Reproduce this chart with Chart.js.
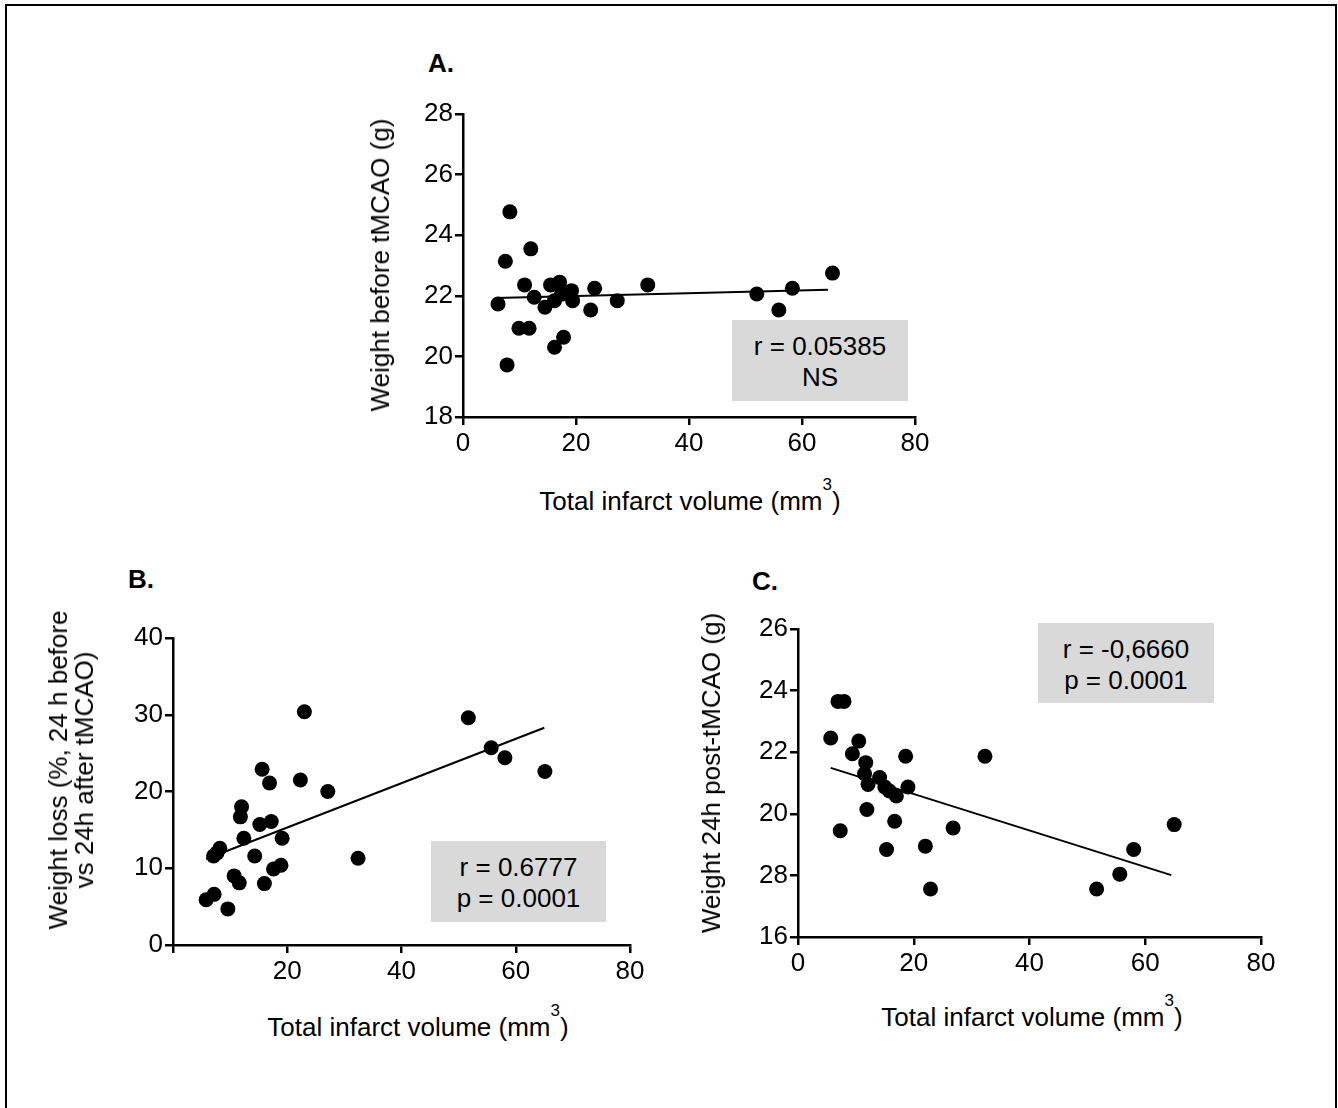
<!DOCTYPE html>
<html>
<head>
<meta charset="utf-8">
<title>Infarct volume vs weight</title>
<script src="https://cdn.jsdelivr.net/npm/chart.js@4.4.0/dist/chart.umd.min.js"></script>
<style>
  body { margin: 0; background: #fff; }
  #page { position: relative; width: 1338px; height: 1108px; overflow: hidden;
          font-family: "Liberation Sans", Arial, sans-serif; color: #000; background: #fff; }
  #frame { position: absolute; left: 5px; top: 4px; width: 1328px; height: 1140px; border: 2px solid #000; }
  canvas { position: absolute; }
  .letter { position: absolute; font-weight: bold; font-size: 26px; line-height: 26px; }
  .xtitle { position: absolute; font-size: 26px; line-height: 26px; white-space: nowrap;
            transform: translate(-50%, -50%); }
  .xtitle span { font-size: 17px; position: relative; top: -20px; }
  .ytitle { position: absolute; font-size: 26px; line-height: 26px; white-space: nowrap; text-align: center;
            transform: translate(-50%, -50%) rotate(-90deg); }
  .stat { position: absolute; background: #d9d9d9; font-size: 26px; line-height: 31px; text-align: center;
          display: flex; flex-direction: column; justify-content: center; padding-top: 3px; box-sizing: border-box; }
</style>
</head>
<body>
<div id="page">
  <div id="frame"></div>

  <canvas id="chartA" width="620" height="372" style="left:330px; top:90px; width:620px; height:372px;"></canvas>
  <canvas id="chartB" width="625" height="380" style="left:40px; top:610px; width:625px; height:380px;"></canvas>
  <canvas id="chartC" width="606" height="382" style="left:690px; top:600px; width:606px; height:382px;"></canvas>

  <div class="letter" style="left:428px; top:50px;">A.</div>
  <div class="letter" style="left:128px; top:566px;">B.</div>
  <div class="letter" style="left:752px; top:568px;">C.</div>

  <div class="ytitle" style="left:380px; top:265px;">Weight before tMCAO (g)</div>
  <div class="ytitle" style="left:71px; top:770px;">Weight loss (%, 24 h before<br>vs 24h after tMCAO)</div>
  <div class="ytitle" style="left:711px; top:773px;">Weight 24h post-tMCAO (g)</div>

  <div class="xtitle" style="left:690px; top:503px;">Total infarct volume (mm<span>3</span>)</div>
  <div class="xtitle" style="left:418px; top:1029px;">Total infarct volume (mm<span>3</span>)</div>
  <div class="xtitle" style="left:1032px; top:1019px;">Total infarct volume (mm<span>3</span>)</div>

  <div class="stat" style="left:732px; top:320px; width:176px; height:81px;"><div>r = 0.05385</div><div>NS</div></div>
  <div class="stat" style="left:431px; top:841px; width:175px; height:81px;"><div>r = 0.6777</div><div>p = 0.0001</div></div>
  <div class="stat" style="left:1038px; top:623px; width:176px; height:80px;"><div>r = -0,6660</div><div>p = 0.0001</div></div>
</div>

<script>
const FONT = '"Liberation Sans", Arial, sans-serif';

// x axis: total infarct volume (mm3)
const xTicks = [0, 20, 40, 60, 80];

// A. weight before tMCAO (g)
const volA = [6.2, 7.5, 8.3, 7.8, 9.9, 11.7, 10.9, 12.0, 12.6, 14.5, 15.5, 16.2, 17.1, 17.4,
              16.2, 17.8, 19.2, 19.4, 22.6, 23.3, 27.3, 32.7, 52.0, 55.9, 58.3, 65.4];
const weightBefore = [21.73, 23.14, 24.77, 19.72, 20.93, 20.93, 22.36, 23.55, 21.95, 21.62, 22.36, 21.84, 22.45, 22.05,
                      20.3, 20.63, 22.17, 21.84, 21.53, 22.25, 21.84, 22.36, 22.06, 21.53, 22.25, 22.75];
const fitAx = [5.8, 64.6];
const fitAy = [21.93, 22.2];
const yTicksA = [18, 20, 22, 24, 26, 28];

// B. weight loss (%)
const volB = [5.8, 7.2, 9.6, 7.1, 8.2, 7.7, 10.7, 11.6, 11.8, 12.0, 12.4, 14.3, 15.6, 15.2,
              16.0, 16.9, 17.2, 17.6, 18.9, 19.1, 22.3, 23.0, 27.1, 32.4, 51.7, 55.7, 58.1, 65.1];
const weightLoss = [5.9, 6.6, 4.7, 11.6, 12.6, 12.0, 9.0, 8.1, 16.7, 18.0, 13.9, 11.6, 22.9, 15.7,
                    8.0, 21.1, 16.1, 9.9, 10.4, 13.9, 21.5, 30.4, 20.0, 11.3, 29.6, 25.7, 24.4, 22.6];
const fitBx = [5.8, 65.0];
const fitBy = [11.2, 28.3];
const yTicksB = [0, 10, 20, 30, 40];

// C. weight 24h post-tMCAO (g)
const volC = [5.65, 6.9, 7.95, 7.3, 9.4, 10.5, 11.7, 11.5, 12.1, 11.9, 14.1, 15.0, 15.8,
              17.0, 16.7, 15.3, 18.6, 19.0, 22.0, 22.9, 26.8, 32.3, 51.6, 55.6, 58.0, 65.0];
const weight24h = [22.46, 23.65, 23.65, 19.45, 21.95, 22.36, 21.66, 21.3, 20.95, 20.14, 21.18, 20.87, 20.74,
                   20.58, 19.76, 18.84, 21.87, 20.87, 18.95, 17.56, 19.54, 21.87, 17.56, 18.04, 18.84, 19.65];
const fitCx = [5.65, 64.5];
const fitCy = [21.49, 18.01];
const yTicksC = [16, 18, 20, 22, 24, 26];
const yTickLabelsC = ['16', '28', '20', '22', '24', '26'];  // printed this way in the figure

Chart.defaults.font.family = FONT;
Chart.defaults.color = '#000';

function toPoints(xs, ys) {
    return xs.map((x, i) => ({ x: x, y: ys[i] }));
}

function axisOpts(pos, ticks, labelFn, size) {
    return {
        type: 'linear',
        position: pos,
        min: ticks[0],
        max: ticks[ticks.length - 1],
        afterBuildTicks: scale => { scale.ticks = ticks.map(v => ({ value: v })); },
        ticks: {
            color: '#000',
            font: { family: FONT, size: 26 },
            padding: pos === 'left' ? 2 : 3,
            callback: labelFn
        },
        grid: {
            display: true,
            drawOnChartArea: false,
            drawTicks: true,
            tickLength: 8,
            color: '#000',
            lineWidth: 2.5
        },
        border: { display: true, color: '#000', width: 2.5 },
        afterFit: scale => {
            if (pos === 'left') scale.width = size;
            else scale.height = size;
        }
    };
}

function buildPanel(canvasId, cfg) {
    const ctx = document.getElementById(canvasId).getContext('2d');
    return new Chart(ctx, {
        type: 'scatter',
        data: {
            datasets: [
                {
                    data: toPoints(cfg.xs, cfg.ys),
                    backgroundColor: '#000',
                    borderColor: '#000',
                    borderWidth: 0,
                    pointRadius: 7.5,
                    pointHoverRadius: 7.5
                },
                {
                    type: 'line',
                    data: toPoints(cfg.fitX, cfg.fitY),
                    borderColor: '#000',
                    borderWidth: 2,
                    pointRadius: 0,
                    fill: false,
                    tension: 0
                }
            ]
        },
        options: {
            responsive: false,
            animation: false,
            layout: { padding: { left: 0, top: cfg.padTop, right: 35, bottom: 0 } },
            plugins: { legend: { display: false }, tooltip: { enabled: false } },
            scales: {
                x: axisOpts('bottom', xTicks, cfg.xLabel || (v => String(v)), 45),
                y: axisOpts('left', cfg.yTicks, cfg.yLabel || (v => String(v)), cfg.yWidth)
            }
        }
    });
}

buildPanel('chartA', {
    xs: volA, ys: weightBefore, fitX: fitAx, fitY: fitAy,
    yTicks: yTicksA, padTop: 24, yWidth: 133
});

buildPanel('chartB', {
    xs: volB, ys: weightLoss, fitX: fitBx, fitY: fitBy,
    yTicks: yTicksB, padTop: 28, yWidth: 133,
    xLabel: v => (v === 0 ? '' : String(v))
});

buildPanel('chartC', {
    xs: volC, ys: weight24h, fitX: fitCx, fitY: fitCy,
    yTicks: yTicksC, padTop: 29, yWidth: 108,
    yLabel: v => yTickLabelsC[yTicksC.indexOf(v)]
});
</script>
</body>
</html>
